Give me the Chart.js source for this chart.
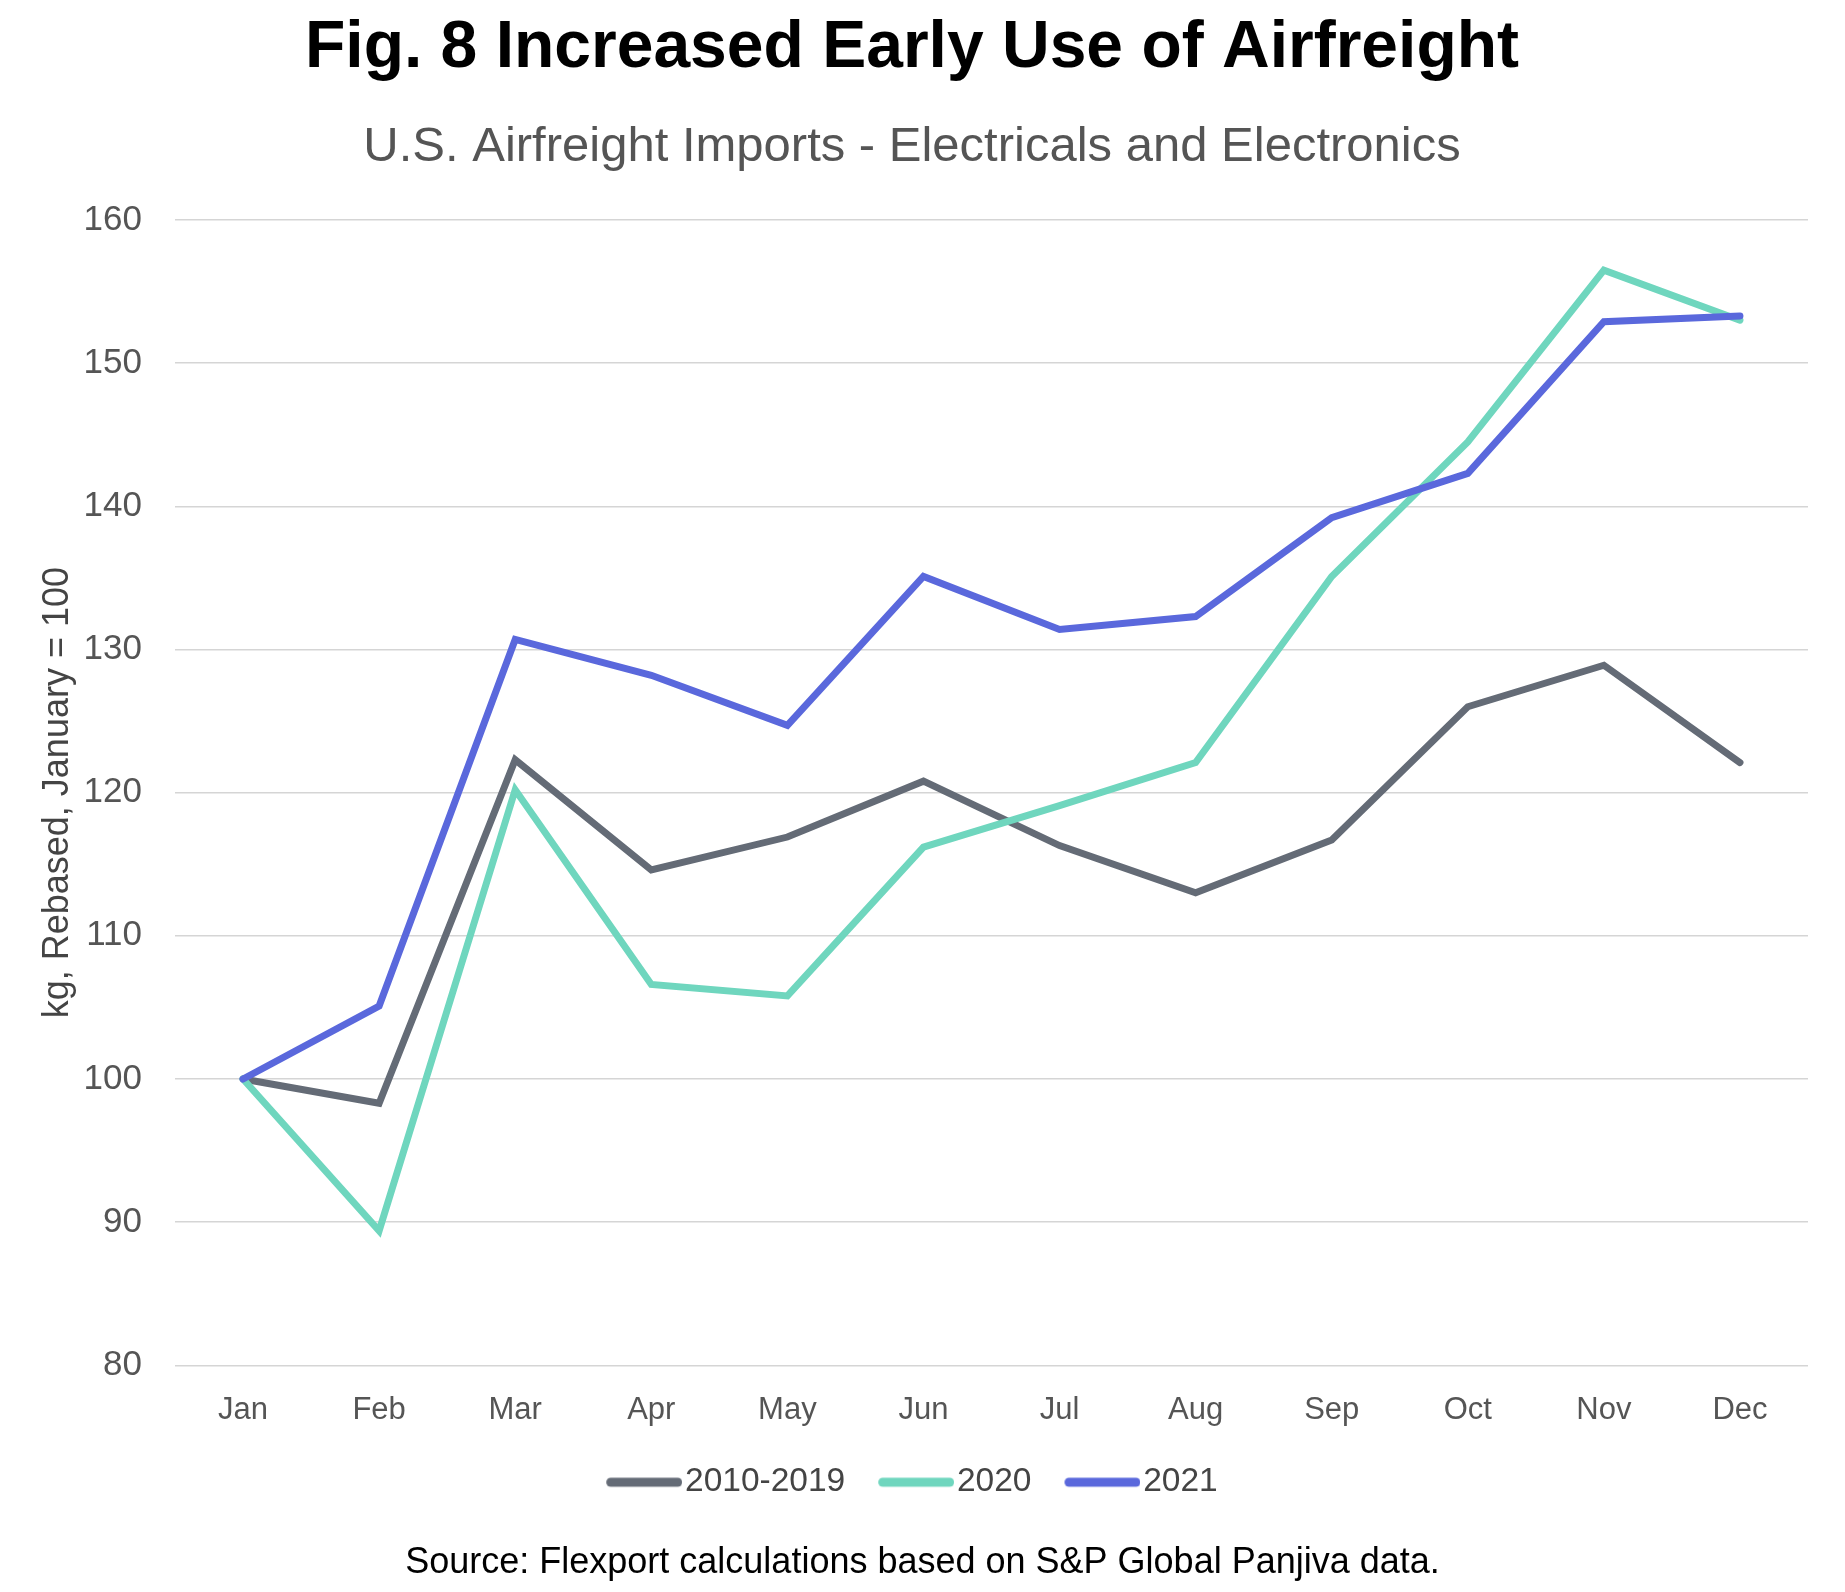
<!DOCTYPE html>
<html>
<head>
<meta charset="utf-8">
<script src="https://cdn.jsdelivr.net/npm/chart.js@4.4.1/dist/chart.umd.min.js"></script>
<style>
  html, body { margin: 0; padding: 0; background: #fff; }
  #wrap { width: 1845px; height: 1592px; }
</style>
</head>
<body>
<div id="wrap"><canvas id="airChart" width="1845" height="1592"></canvas></div>
<script>
// Chart data
const months = ['Jan', 'Feb', 'Mar', 'Apr', 'May', 'Jun', 'Jul', 'Aug', 'Sep', 'Oct', 'Nov', 'Dec'];
const avg2010to2019 = [100, 98.3, 122.3, 114.6, 116.9, 120.8, 116.3, 113.0, 116.7, 126.0, 128.9, 122.1];
const year2020 = [100, 89.4, 120.2, 106.6, 105.8, 116.2, 119.1, 122.1, 135.1, 144.5, 156.5, 153.0];
const year2021 = [100, 105.1, 130.7, 128.2, 124.7, 135.1, 131.4, 132.3, 139.2, 142.3, 152.9, 153.3];
const seriesNames = ['2010-2019', '2020', '2021'];
const yTicks = [80, 90, 100, 110, 120, 130, 140, 150, 160];

const titleText = 'Fig. 8 Increased Early Use of Airfreight';
const subtitleText = 'U.S. Airfreight Imports - Electricals and Electronics';
const yAxisTitle = 'kg, Rebased, January = 100';
const sourceText = 'Source: Flexport calculations based on S&P Global Panjiva data.';

const colors = {
    gray: '#646b76',
    teal: '#6fd6be',
    blue: '#5a68dc',
    grid: '#d5d5d5',
    tick: '#555555',
    legend: '#444444',
};

const FONT = "'Liberation Sans', Arial, sans-serif";

// legend swatch: thick rounded line, shifted right so the text sits close to it
const SWATCH_BOX = 62;
const SWATCH_SHIFT = 14;
function makeSwatch(color) {
    const c = document.createElement('canvas');
    c.width = SWATCH_BOX + SWATCH_SHIFT * 2;
    c.height = 12;
    const g = c.getContext('2d');
    g.strokeStyle = color;
    g.lineWidth = 9;
    g.lineCap = 'round';
    g.beginPath();
    g.moveTo(SWATCH_SHIFT + 4.5, 6);
    g.lineTo(c.width - 4.5, 6);
    g.stroke();
    return c;
}

// draws the source line under the legend
const sourcePlugin = {
    id: 'sourceNote',
    afterDraw(chart) {
        const ctx = chart.ctx;
        ctx.save();
        ctx.font = `36px ${FONT}`;
        ctx.fillStyle = '#000';
        ctx.textAlign = 'center';
        ctx.textBaseline = 'middle';
        ctx.fillText(sourceText, chart.width / 2, chart.height - 29);
        ctx.restore();
    }
};

function lineSet(label, data, color, order) {
    return {
        label: label,
        data: data,
        borderColor: color,
        backgroundColor: color,
        borderWidth: 7,
        borderCapStyle: 'round',
        pointRadius: 0,
        pointHoverRadius: 0,
        tension: 0,
        fill: false,
        order: order,
    };
}

const swatches = [makeSwatch(colors.gray), makeSwatch(colors.teal), makeSwatch(colors.blue)];

const ctx = document.getElementById('airChart').getContext('2d');
new Chart(ctx, {
    type: 'line',
    data: {
        labels: months,
        datasets: [
            lineSet(seriesNames[0], avg2010to2019, colors.gray, 2),
            lineSet(seriesNames[1], year2020, colors.teal, 1),
            lineSet(seriesNames[2], year2021, colors.blue, 0),
        ]
    },
    options: {
        responsive: false,
        animation: false,
        devicePixelRatio: 1,
        layout: {
            padding: { top: 0, left: 16, right: 37, bottom: 83 }
        },
        plugins: {
            title: {
                display: true,
                text: titleText,
                color: '#000',
                font: { family: FONT, size: 66, weight: 'bold', lineHeight: 1.2 },
                padding: { top: 9, bottom: 30 },
            },
            subtitle: {
                display: true,
                text: subtitleText,
                color: '#555555',
                font: { family: FONT, size: 49, lineHeight: 1.2 },
                padding: { top: 0, bottom: 43 },
            },
            legend: {
                position: 'bottom',
                labels: {
                    usePointStyle: true,
                    pointStyleWidth: SWATCH_BOX,
                    boxWidth: SWATCH_BOX,
                    padding: 33,
                    color: colors.legend,
                    font: { family: FONT, size: 33.5 },
                    sort: (a, b) => a.datasetIndex - b.datasetIndex,
                    generateLabels: (chart) => {
                        const items = Chart.defaults.plugins.legend.labels.generateLabels(chart);
                        items.forEach(item => {
                            item.pointStyle = swatches[item.datasetIndex];
                        });
                        return items;
                    }
                }
            },
            tooltip: { enabled: false },
        },
        scales: {
            x: {
                offset: true,
                grid: { display: false, drawTicks: false },
                border: { display: false },
                ticks: {
                    color: colors.tick,
                    font: { family: FONT, size: 31 },
                    padding: 27,
                    maxRotation: 0,
                },
                afterFit: (scale) => {
                    scale.height = scale.height - 24;
                }
            },
            y: {
                min: 80,
                max: 160,
                afterBuildTicks: (scale) => {
                    scale.ticks = yTicks.map(v => ({ value: v }));
                },
                afterFit: (scale) => {
                    scale.width = 159;
                },
                grid: { color: colors.grid, lineWidth: 1.6, drawTicks: false },
                border: { display: false },
                ticks: {
                    color: colors.tick,
                    font: { family: FONT, size: 35 },
                    padding: 33,
                },
                title: {
                    display: true,
                    text: yAxisTitle,
                    color: colors.legend,
                    font: { family: FONT, size: 36, lineHeight: 1.2 },
                    padding: { top: 20, bottom: 11 },
                }
            }
        }
    },
    plugins: [sourcePlugin]
});
</script>
</body>
</html>
